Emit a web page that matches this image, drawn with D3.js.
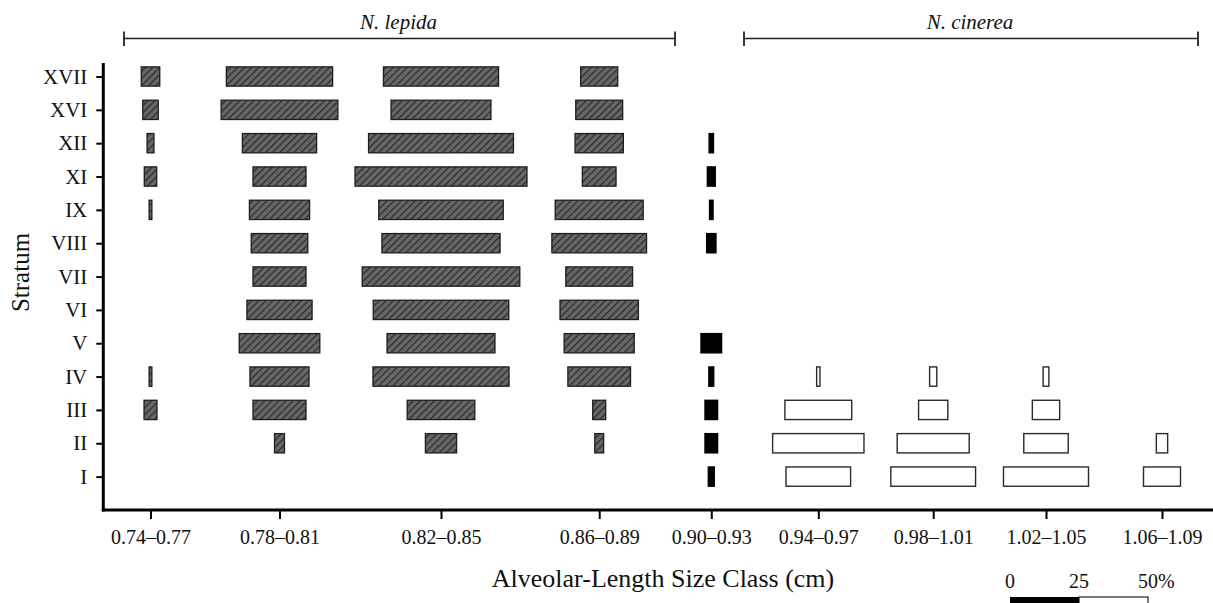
<!DOCTYPE html>
<html>
<head>
<meta charset="utf-8">
<script src="https://cdn.jsdelivr.net/npm/d3@7"></script>
<style>
  html, body { margin: 0; padding: 0; background: #fff; }
  svg { display: block; }
  text { font-family: "Liberation Serif", "Times New Roman", serif; fill: #111; }
</style>
</head>
<body>
<svg id="chart" width="1213" height="603"></svg>
<script>
// ---------------- DATA ----------------
const sizeClasses = ["0.74–0.77", "0.78–0.81", "0.82–0.85", "0.86–0.89", "0.90–0.93",
                     "0.94–0.97", "0.98–1.01", "1.02–1.05", "1.06–1.09"];
const classGroup = ["lepida", "lepida", "lepida", "lepida", "overlap",
                    "cinerea", "cinerea", "cinerea", "cinerea"];
const strata = ["XVII", "XVI", "XII", "XI", "IX", "VIII", "VII", "VI", "V", "IV", "III", "II", "I"];

// percent of stratum sample in each size class (order follows strata)
const pct074 = [6.7, 5.6, 2.5, 4.5, 1.0, 0, 0, 0, 0, 1.0, 4.7, 0, 0];
const pct078 = [38.5, 42.3, 26.9, 19.2, 21.8, 20.5, 19.2, 23.6, 29.2, 21.4, 19.2, 3.6, 0];
const pct082 = [41.7, 36.2, 52.5, 62.3, 45.1, 42.8, 57.1, 49.1, 39.1, 49.3, 24.5, 11.3, 0];
const pct086 = [13.4, 17.0, 17.5, 12.2, 31.9, 34.3, 24.2, 28.4, 25.4, 22.7, 4.7, 3.2, 0];
const pct090 = [0, 0, 1.6, 2.9, 1.3, 3.4, 0, 0, 7.5, 1.8, 4.6, 4.6, 2.2];
const pct094 = [0, 0, 0, 0, 0, 0, 0, 0, 0, 1.2, 24.2, 33.1, 23.4];
const pct098 = [0, 0, 0, 0, 0, 0, 0, 0, 0, 2.6, 10.6, 26.1, 30.7];
const pct102 = [0, 0, 0, 0, 0, 0, 0, 0, 0, 2.1, 9.9, 16.1, 30.8];
const pct106 = [0, 0, 0, 0, 0, 0, 0, 0, 0, 0, 0, 4.1, 13.4];
const seriesValues = [pct074, pct078, pct082, pct086, pct090, pct094, pct098, pct102, pct106];

const speciesLabels = ["N. lepida", "N. cinerea"];
const legendTicks = [0, 25, 50];
const xTitle = "Alveolar-Length Size Class (cm)";
const yTitle = "Stratum";

// ---------------- LAYOUT ----------------
const svg = d3.select("#chart");
const colCenters = [150.5, 279.5, 441, 599.2, 711.3, 818.3, 933.2, 1046, 1162];
const axisX = 103.3, axisY = 510;

const x = d3.scaleOrdinal().domain(sizeClasses).range(colCenters);
const y = d3.scalePoint().domain(strata).range([76.5, 476.6]);
const w = d3.scaleLinear().domain([0, 100]).range([0, 276]);
const barH = 19.3;

// hatch pattern
const defs = svg.append("defs");
const pat = defs.append("pattern")
  .attr("id", "hatch").attr("patternUnits", "userSpaceOnUse")
  .attr("width", 5).attr("height", 5)
  .attr("patternTransform", "rotate(45)");
pat.append("rect").attr("width", 5).attr("height", 5).attr("fill", "#676767");
pat.append("line").attr("x1", 0.6).attr("y1", 0).attr("x2", 0.6).attr("y2", 5)
  .attr("stroke", "#2b2b2b").attr("stroke-width", 1.3);

const fills = { lepida: "url(#hatch)", overlap: "#000", cinerea: "#fff" };
const strokes = { lepida: "#1e1e1e", overlap: "#000", cinerea: "#2a2a2a" };

// ---------------- BARS ----------------
const cells = [];
sizeClasses.forEach((c, i) => {
  seriesValues[i].forEach((v, j) => {
    if (v > 0) cells.push({ cls: c, group: classGroup[i], stratum: strata[j], value: v });
  });
});

svg.append("g").selectAll("rect").data(cells).join("rect")
  .attr("x", d => x(d.cls) - w(d.value) / 2)
  .attr("y", d => y(d.stratum) - barH / 2)
  .attr("width", d => w(d.value))
  .attr("height", barH)
  .attr("fill", d => fills[d.group])
  .attr("stroke", d => strokes[d.group])
  .attr("stroke-width", d => d.group === "cinerea" ? 1.4 : 1.3);

// ---------------- AXES ----------------
const yAxis = svg.append("g").attr("transform", `translate(${axisX},0)`)
  .call(d3.axisLeft(y).tickSize(7).tickPadding(9));
yAxis.select(".domain").remove();
yAxis.selectAll(".tick line").attr("stroke", "#000").attr("stroke-width", 2);
yAxis.selectAll(".tick text").attr("font-size", 21)
  .attr("font-family", "Liberation Serif").attr("fill", "#111");

const xAxis = svg.append("g").attr("transform", `translate(0,${axisY})`)
  .call(d3.axisBottom(x).tickSize(9).tickPadding(11));
xAxis.select(".domain").remove();
xAxis.selectAll(".tick line").attr("stroke", "#000").attr("stroke-width", 2);
xAxis.selectAll(".tick text").attr("font-size", 20)
  .attr("font-family", "Liberation Serif").attr("fill", "#111");

// thick axis lines
svg.append("line").attr("x1", axisX).attr("x2", axisX).attr("y1", 63).attr("y2", axisY + 1.5)
  .attr("stroke", "#000").attr("stroke-width", 3);
svg.append("line").attr("x1", axisX - 1.5).attr("x2", 1213).attr("y1", axisY).attr("y2", axisY)
  .attr("stroke", "#000").attr("stroke-width", 3);

// titles
svg.append("text").attr("x", 663).attr("y", 587).attr("text-anchor", "middle")
  .attr("font-size", 26).text(xTitle);
svg.append("text").attr("transform", "translate(28.5,272.5) rotate(-90)")
  .attr("text-anchor", "middle").attr("font-size", 25).text(yTitle);

// species brackets
const brackets = [
  { label: speciesLabels[0], x0: 124, x1: 675 },
  { label: speciesLabels[1], x0: 744, x1: 1198 }
];
const bg = svg.append("g");
brackets.forEach(b => {
  bg.append("line").attr("x1", b.x0).attr("x2", b.x1).attr("y1", 38.5).attr("y2", 38.5)
    .attr("stroke", "#222").attr("stroke-width", 1.5);
  [b.x0, b.x1].forEach(xx => bg.append("line").attr("x1", xx).attr("x2", xx)
    .attr("y1", 31.5).attr("y2", 46).attr("stroke", "#222").attr("stroke-width", 1.8));
  bg.append("text").attr("x", (b.x0 + b.x1) / 2 - 1).attr("y", 29.3).attr("text-anchor", "middle")
    .attr("font-size", 21).attr("font-style", "italic").text(b.label);
});

// ---------------- SCALE LEGEND ----------------
const lx = 1010, ly = 597;
const lg = svg.append("g");
lg.append("rect").attr("x", lx + w(legendTicks[1])).attr("y", ly)
  .attr("width", w(legendTicks[2]) - w(legendTicks[1])).attr("height", 9)
  .attr("fill", "#fff").attr("stroke", "#222").attr("stroke-width", 1.2);
lg.append("rect").attr("x", lx).attr("y", ly)
  .attr("width", w(legendTicks[1])).attr("height", 9).attr("fill", "#000");
legendTicks.forEach((t, i) => {
  const last = i === legendTicks.length - 1;
  lg.append("text").attr("x", lx + w(t) - (last ? 10 : 0)).attr("y", 588.3)
    .attr("text-anchor", last ? "start" : "middle").attr("font-size", 20)
    .text(last ? t + "%" : t);
});
</script>
</body>
</html>
